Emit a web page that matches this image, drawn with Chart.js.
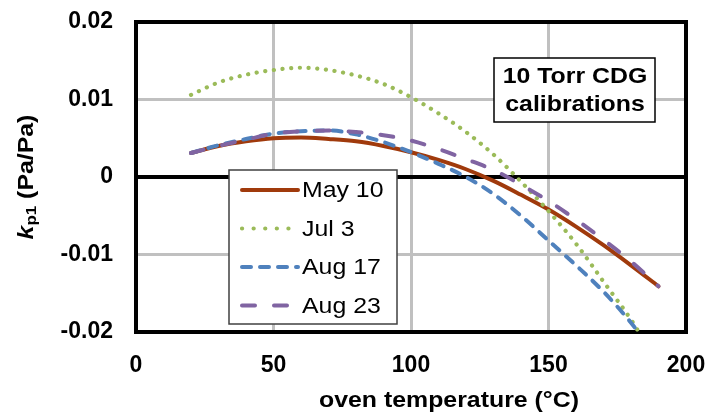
<!DOCTYPE html>
<html>
<head>
<meta charset="utf-8">
<script src="https://cdn.jsdelivr.net/npm/chart.js@4"></script>
<style>
  html, body { margin: 0; padding: 0; background: #fff; }
  #chart { display: block; }
</style>
</head>
<body>
<canvas id="chart" width="710" height="414"></canvas>
<script>
'use strict';

// oven temperatures (°C) where each calibration curve was read
const tempsLong = [20, 30, 40, 50, 60, 70, 80, 90, 100, 110, 120, 130, 140, 150, 160, 170, 180, 190];
const tempsShort = [20, 30, 40, 50, 60, 70, 80, 90, 100, 110, 120, 130, 140, 150, 160, 170, 180, 183];

// k_p1 (Pa/Pa) per calibration
const may10 = [0.0031, 0.0040, 0.0046, 0.0050, 0.0051, 0.0049, 0.0046, 0.0040, 0.0032, 0.0022, 0.0010, -0.0005, -0.0023, -0.0042, -0.0064, -0.0088, -0.0114, -0.0141];
const jul3 = [0.0106, 0.0122, 0.0132, 0.0138, 0.0141, 0.0138, 0.0131, 0.0120, 0.0103, 0.0082, 0.0058, 0.0029, -0.0006, -0.0044, -0.0086, -0.0135, -0.0184, -0.0201];
const aug17 = [0.0031, 0.0041, 0.0049, 0.0056, 0.0059, 0.0060, 0.0055, 0.0045, 0.0032, 0.0017, 0.0000, -0.0022, -0.0050, -0.0082, -0.0114, -0.0148, -0.0188, -0.0202];
const aug23 = [0.0031, 0.0040, 0.0048, 0.0056, 0.0059, 0.0060, 0.0058, 0.0054, 0.0047, 0.0036, 0.0023, 0.0009, -0.0010, -0.0031, -0.0055, -0.0081, -0.0109, -0.0141];

const seriesNames = ['May 10', 'Jul 3', 'Aug 17', 'Aug 23'];
const yTicks = [-0.02, -0.01, 0, 0.01, 0.02];
const xTicks = [0, 50, 100, 150, 200];
const noteLines = ['10 Torr CDG', 'calibrations'];

const FONT = 'Arial, "Liberation Sans", sans-serif';
const STRETCH = 1.13; // text in this sheet is a little wide

function pts(xs, ys) {
    return xs.map((x, i) => ({ x: x, y: ys[i] }));
}

const lineStyles = [
    { color: '#A03A0C', dash: [], width: 4 },
    { color: '#9BBB59', dash: [0.1, 8.6], width: 4.2 },
    { color: '#4F81BD', dash: [9, 9], width: 4 },
    { color: '#8064A2', dash: [13, 19], width: 4 }
];

const seriesData = [pts(tempsLong, may10), pts(tempsShort, jul3), pts(tempsShort, aug17), pts(tempsLong, aug23)];

const datasets = seriesData.map((d, i) => ({
    label: seriesNames[i],
    data: d,
    borderColor: lineStyles[i].color,
    borderWidth: lineStyles[i].width,
    borderDash: lineStyles[i].dash,
    borderCapStyle: 'round',
    pointRadius: 0,
    fill: false,
    cubicInterpolationMode: 'monotone',
    order: 4 - i
}));

// text drawn wider than the font's own width
function wideText(ctx, text, x, y, align) {
    const w = ctx.measureText(text).width * STRETCH;
    let left = x;
    if (align === 'center') left = x - w / 2;
    else if (align === 'right') left = x - w;
    ctx.save();
    ctx.translate(left, y);
    ctx.scale(STRETCH, 1);
    ctx.textAlign = 'left';
    ctx.fillText(text, 0, 0);
    ctx.restore();
    return w;
}

// black frame round the plot area
const framePlugin = {
    id: 'frame',
    beforeDatasetsDraw(chart) {
        const a = chart.chartArea, ctx = chart.ctx;
        ctx.save();
        ctx.strokeStyle = '#000';
        ctx.lineWidth = 4;
        ctx.strokeRect(a.left, a.top, a.right - a.left, a.bottom - a.top);
        ctx.restore();
    }
};

// axis titles, the note box and the legend box
const overlayPlugin = {
    id: 'overlay',
    afterDraw(chart) {
        const ctx = chart.ctx;
        ctx.save();
        ctx.fillStyle = '#000';
        ctx.textBaseline = 'middle';

        // x title
        ctx.font = 'bold 22px ' + FONT;
        wideText(ctx, 'oven temperature (°C)', 449, 401, 'center');

        // y title: k (italic) with subscript p1
        ctx.save();
        ctx.translate(27, 177);
        ctx.rotate(-Math.PI / 2);
        const parts = [
            { t: 'k', f: 'italic bold 22px ' + FONT, dy: 0 },
            { t: 'p1', f: 'bold 15px ' + FONT, dy: 5 },
            { t: ' (Pa/Pa)', f: 'bold 22px ' + FONT, dy: 0 }
        ];
        let total = 0;
        parts.forEach(p => { ctx.font = p.f; total += ctx.measureText(p.t).width * STRETCH; });
        let x = -total / 2;
        parts.forEach(p => {
            ctx.font = p.f;
            x += wideText(ctx, p.t, x, p.dy, 'left');
        });
        ctx.restore();

        // note box
        ctx.fillStyle = '#fff';
        ctx.fillRect(494, 58, 161, 64);
        ctx.strokeStyle = '#000';
        ctx.lineWidth = 1.5;
        ctx.strokeRect(494, 58, 161, 64);
        ctx.fillStyle = '#000';
        ctx.font = 'bold 22px ' + FONT;
        wideText(ctx, noteLines[0], 575, 77, 'center');
        wideText(ctx, noteLines[1], 575, 105, 'center');

        // legend box
        const lx = 229, ly = 170, lw = 168, lh = 154;
        ctx.fillStyle = '#fff';
        ctx.fillRect(lx, ly, lw, lh);
        ctx.strokeStyle = '#404040';
        ctx.lineWidth = 1.5;
        ctx.strokeRect(lx, ly, lw, lh);
        ctx.font = '22px ' + FONT;
        seriesNames.forEach((name, i) => {
            const s = lineStyles[i];
            const y = ly + 20 + i * 38.5;
            ctx.save();
            ctx.strokeStyle = s.color;
            ctx.lineWidth = s.width;
            ctx.lineCap = 'round';
            ctx.setLineDash(i === 1 ? [0.1, 11.5] : s.dash);
            ctx.beginPath();
            ctx.moveTo(lx + 13, y);
            ctx.lineTo(lx + 69, y);
            ctx.stroke();
            ctx.restore();
            ctx.fillStyle = '#000';
            wideText(ctx, name, lx + 73, y + 1, 'left');
        });
        ctx.restore();
    }
};

new Chart(document.getElementById('chart').getContext('2d'), {
    type: 'line',
    data: { datasets: datasets },
    options: {
        responsive: false,
        animation: false,
        layout: { padding: { left: 0, right: 24, top: 22, bottom: 0 } },
        plugins: {
            legend: { display: false },
            tooltip: { enabled: false }
        },
        scales: {
            x: {
                type: 'linear',
                min: xTicks[0],
                max: xTicks[xTicks.length - 1],
                afterBuildTicks: scale => { scale.ticks = xTicks.map(v => ({ value: v })); },
                afterFit: scale => {
                    scale.height = 82;
                    scale.paddingLeft = 0;
                    scale.paddingRight = 0;
                },
                border: { display: false },
                grid: { color: '#C0C0C0', lineWidth: 3, drawTicks: false },
                ticks: {
                    padding: 20,
                    color: '#000',
                    font: { family: FONT, size: 23, weight: 'bold' },
                    maxRotation: 0
                }
            },
            y: {
                min: yTicks[0],
                max: yTicks[yTicks.length - 1],
                afterBuildTicks: scale => { scale.ticks = yTicks.map(v => ({ value: v })); },
                afterFit: scale => {
                    scale.width = 136;
                    scale.paddingTop = 0;
                    scale.paddingBottom = 0;
                },
                border: { display: false },
                grid: {
                    color: c => (c.tick && c.tick.value === 0 ? '#000' : '#C0C0C0'),
                    lineWidth: c => (c.tick && c.tick.value === 0 ? 4 : 3),
                    drawTicks: false
                },
                ticks: {
                    padding: 23,
                    color: '#000',
                    font: { family: FONT, size: 23, weight: 'bold' },
                    callback: v => (v === 0 ? '0' : v.toFixed(2))
                }
            }
        }
    },
    plugins: [framePlugin, overlayPlugin]
});
</script>
</body>
</html>
